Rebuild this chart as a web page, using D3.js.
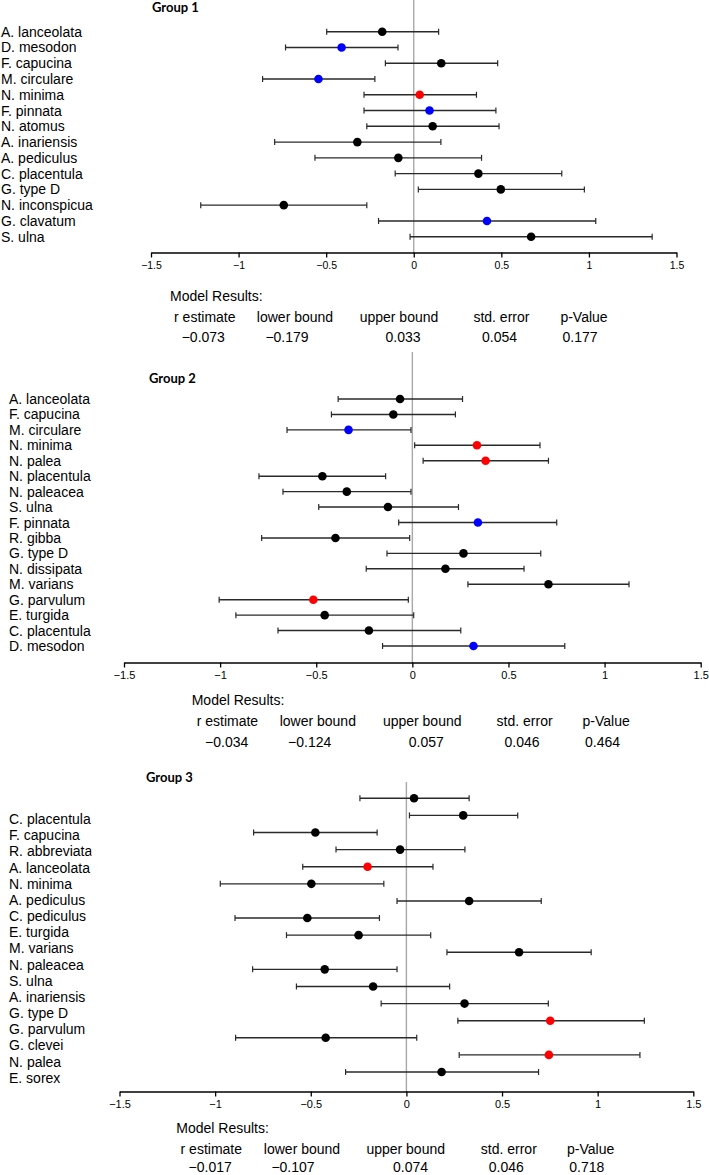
<!DOCTYPE html>
<html><head><meta charset="utf-8">
<script src="https://cdn.jsdelivr.net/npm/d3@7"></script>
<style>
body{margin:0;background:#fff;}
svg{display:block;}
text{font-family:"Liberation Sans",Arial,sans-serif;fill:#000;}
</style></head>
<body>
<svg id="chart" width="709" height="1175"></svg>
<script>
// ---------- DATA ----------
const ticks = [-1.5, -1, -0.5, 0, 0.5, 1, 1.5];
const resultHeaders = ["r estimate", "lower bound", "upper bound", "std. error", "p-Value"];

// Group 1
const g1Species = ["A. lanceolata","D. mesodon","F. capucina","M. circulare","N. minima","F. pinnata","N. atomus","A. inariensis","A. pediculus","C. placentula","G. type D","N. inconspicua","G. clavatum","S. ulna"];
const g1Estimate = [-0.18,-0.412,0.157,-0.544,0.034,0.09,0.108,-0.322,-0.088,0.369,0.497,-0.742,0.418,0.670];
const g1Lower    = [-0.497,-0.732,-0.162,-0.863,-0.284,-0.284,-0.268,-0.794,-0.564,-0.106,0.026,-1.216,-0.201,-0.021];
const g1Upper    = [0.142,-0.09,0.479,-0.222,0.358,0.469,0.487,0.155,0.387,0.845,0.974,-0.268,1.039,1.361];
const g1Colour   = ["k","b","k","b","r","b","k","k","k","k","k","k","b","k"];
const g1Results  = ["−0.073","−0.179","0.033","0.054","0.177"];

// Group 2
const g2Species = ["A. lanceolata","F. capucina","M. circulare","N. minima","N. palea","N. placentula","N. paleacea","S. ulna","F. pinnata","R. gibba","G. type D","N. dissipata","M. varians","G. parvulum","E. turgida","C. placentula","D. mesodon"];
const g2Estimate = [-0.064,-0.099,-0.332,0.336,0.381,-0.468,-0.341,-0.127,0.341,-0.4,0.266,0.172,0.708,-0.515,-0.456,-0.226,0.318];
const g2Lower    = [-0.386,-0.421,-0.652,0.012,0.056,-0.798,-0.673,-0.487,-0.071,-0.784,-0.132,-0.24,0.289,-1.005,-0.918,-0.699,-0.155];
const g2Upper    = [0.261,0.224,-0.007,0.664,0.708,-0.139,-0.007,0.24,0.751,-0.014,0.668,0.581,1.127,-0.021,0.007,0.252,0.793];
const g2Colour   = ["k","k","b","r","r","k","k","k","b","k","k","k","k","r","k","k","b"];
const g2Results  = ["−0.034","−0.124","0.057","0.046","0.464"];

// Group 3
const g3Species = ["C. placentula","F. capucina","R. abbreviata","A. lanceolata","N. minima","A. pediculus","C. pediculus","E. turgida","M. varians","N. paleacea","S. ulna","A. inariensis","G. type D","G. parvulum","G. clevei","N. palea","E. sorex"];
const g3Estimate = [0.04,0.297,-0.476,-0.033,-0.203,-0.497,0.328,-0.518,-0.25,0.589,-0.427,-0.174,0.304,0.752,-0.422,0.745,0.184];
const g3Lower    = [-0.243,0.016,-0.799,-0.368,-0.542,-0.973,-0.049,-0.896,-0.627,0.212,-0.804,-0.575,-0.132,0.269,-0.893,0.276,-0.318];
const g3Upper    = [0.328,0.582,-0.153,0.306,0.139,-0.118,0.705,-0.141,0.127,0.966,-0.049,0.226,0.742,1.244,0.054,1.221,0.691];
const g3Colour   = ["k","k","k","k","r","k","k","k","k","k","k","k","k","r","k","r","k"];
const g3Results  = ["−0.017","−0.107","0.074","0.046","0.718"];

// ---------- LAYOUT ----------
const colourMap = {k:"#000000", b:"#0000ff", r:"#ff0000"};
const panels = [
  {title:"Group 1", species:g1Species, est:g1Estimate, lo:g1Lower, hi:g1Upper, col:g1Colour, res:g1Results,
   titleX:152, titleY:7, labelX:1, x0:151, x1:676.5, rowTop:31.7, rowBot:236.7, labTop:31.7, labBot:236.7,
   vTop:0, axisY:252.5, tickFont:10.5, labClip:null,
   mrX:170, mrY:296, hY:316.7, vY:336.7,
   hX:[204.8,295,399,501.4,584], vX:[203.3,287,403,499.6,580]},
  {title:"Group 2", species:g2Species, est:g2Estimate, lo:g2Lower, hi:g2Upper, col:g2Colour, res:g2Results,
   titleX:149, titleY:378, labelX:9, x0:124, x1:700.7, rowTop:399, rowBot:646, labTop:399, labBot:646,
   vTop:352, axisY:662.5, tickFont:11, labClip:null,
   mrX:191.7, mrY:700, hY:721, vY:741.5,
   hX:[227.4,317.8,422.2,524.6,606.2], vX:[226.7,309.7,426.3,522.1,602.6]},
  {title:"Group 3", species:g3Species, est:g3Estimate, lo:g3Lower, hi:g3Upper, col:g3Colour, res:g3Results,
   titleX:146, titleY:777, labelX:9, x0:119.5, x1:693.3, rowTop:798.3, rowBot:1072, labTop:819, labBot:1077.7,
   vTop:782, axisY:1091.5, tickFont:11, labClip:91.5,
   mrX:176.3, mrY:1128, hY:1148.5, vY:1166.5,
   hX:[211.3,302,405.7,508.8,590.6], vX:[210.2,293,410.5,506.3,586.8]}
];

const svg = d3.select("#chart");

panels.forEach((p, pi) => {
  const g = svg.append("g");
  const idx = d3.range(p.species.length);
  const x = d3.scaleLinear().domain([-1.5, 1.5]).range([p.x0, p.x1]);
  const y = d3.scalePoint().domain(idx).range([p.rowTop, p.rowBot]);
  const yLab = d3.scalePoint().domain(idx).range([p.labTop, p.labBot]);

  // title
  g.append("text").attr("x", p.titleX).attr("y", p.titleY)
    .attr("dominant-baseline","central")
    .style("font-family","Lato, 'Open Sans', sans-serif").style("font-weight","bold").style("font-size","13px")
    .text(p.title);

  // zero line
  g.append("line").attr("x1", x(0)).attr("x2", x(0)).attr("y1", p.vTop).attr("y2", p.axisY)
    .attr("stroke","#a8a8a8").attr("stroke-width",1.4);

  // labels
  const labG = g.append("g");
  if (p.labClip) {
    const cid = "clip"+pi;
    svg.append("clipPath").attr("id", cid).append("rect")
      .attr("x",0).attr("y",p.labTop-12).attr("width",p.labClip).attr("height",p.labBot-p.labTop+24);
    labG.attr("clip-path","url(#"+cid+")");
  }
  labG.selectAll("text").data(idx).join("text")
    .attr("x", p.labelX).attr("y", d => yLab(d))
    .attr("dominant-baseline","central")
    .style("font-size","14px")
    .text(d => p.species[d]);

  // error bars
  const bars = g.append("g").selectAll("g").data(idx).join("g");
  bars.append("line").attr("x1", d => x(p.lo[d])).attr("x2", d => x(p.hi[d]))
    .attr("y1", d => y(d)).attr("y2", d => y(d)).attr("stroke","#2a2a2a").attr("stroke-width",1.4);
  bars.append("line").attr("x1", d => x(p.lo[d])).attr("x2", d => x(p.lo[d]))
    .attr("y1", d => y(d)-3).attr("y2", d => y(d)+3).attr("stroke","#2a2a2a").attr("stroke-width",1.2);
  bars.append("line").attr("x1", d => x(p.hi[d])).attr("x2", d => x(p.hi[d]))
    .attr("y1", d => y(d)-3).attr("y2", d => y(d)+3).attr("stroke","#2a2a2a").attr("stroke-width",1.2);
  bars.append("circle").attr("cx", d => x(p.est[d])).attr("cy", d => y(d)).attr("r",4.3)
    .attr("fill", d => colourMap[p.col[d]]);

  // axis
  const ax = g.append("g").attr("transform","translate(0,"+p.axisY+")")
    .call(d3.axisBottom(x).tickValues(ticks).tickSizeOuter(0).tickSizeInner(5).tickPadding(4).tickFormat(d3.format("")));
  ax.select(".domain").attr("stroke","#000").attr("stroke-width",1.5);
  ax.selectAll(".tick line").attr("stroke","#000").attr("stroke-width",1.3);
  ax.selectAll(".tick text").style("font-family","'Liberation Sans',Arial,sans-serif")
    .style("font-size", p.tickFont+"px").attr("fill","#222");

  // model results
  g.append("text").attr("x", p.mrX).attr("y", p.mrY).attr("dominant-baseline","central")
    .style("font-size","14px").text("Model Results:");
  g.append("g").selectAll("text").data(resultHeaders).join("text")
    .attr("x", (d,i) => p.hX[i]).attr("y", p.hY).attr("text-anchor","middle").attr("dominant-baseline","central")
    .style("font-size","14px").text(d => d);
  g.append("g").selectAll("text").data(p.res).join("text")
    .attr("x", (d,i) => p.vX[i]).attr("y", p.vY).attr("text-anchor","middle").attr("dominant-baseline","central")
    .style("font-size","14px").text(d => d);
});
</script>
</body></html>
